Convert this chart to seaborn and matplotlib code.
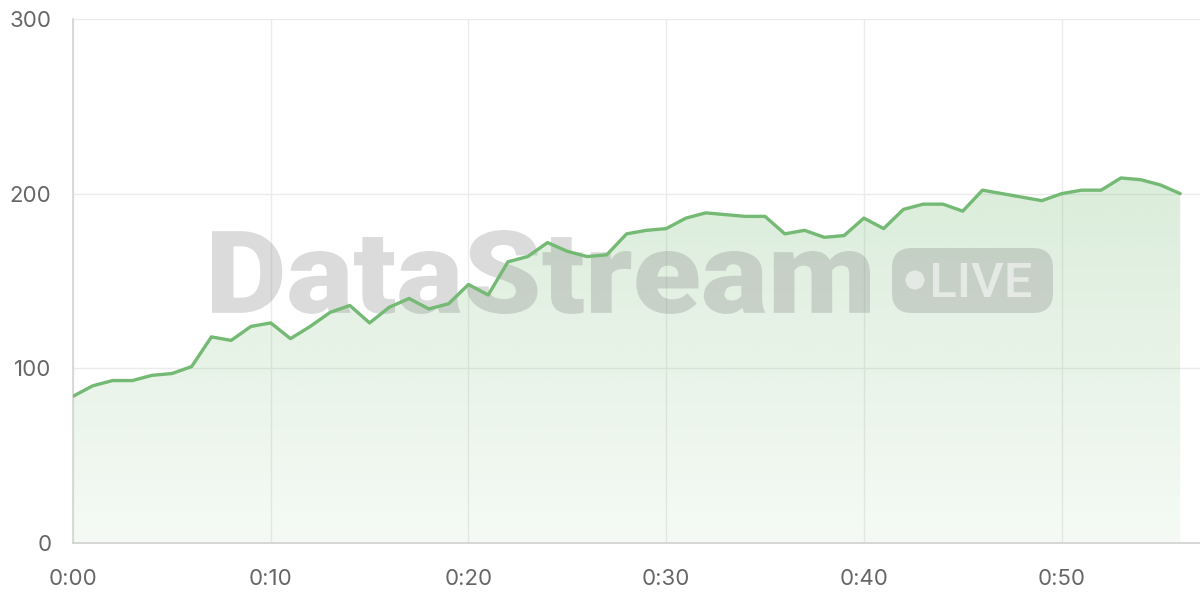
import numpy as np
import pandas as pd
import matplotlib
matplotlib.use("Agg")
import matplotlib.pyplot as plt
import seaborn as sns
from matplotlib.textpath import TextPath
from matplotlib.font_manager import FontProperties
from matplotlib.patches import PathPatch, Polygon, FancyBboxPatch, Circle
from matplotlib.transforms import Affine2D

# ---- data ----
minutes = list(range(57))
values = [84, 90, 93, 93, 96, 97, 101, 118, 116, 124,
          126, 117, 124, 132, 136, 126, 135, 140, 134, 137,
          148, 142, 161, 164, 172, 167, 164, 165, 177, 179,
          180, 186, 189, 188, 187, 187, 177, 179, 175, 176,
          186, 180, 191, 194, 194, 190, 202, 200, 198, 196,
          200, 202, 202, 209, 208, 205, 200]
x_ticks = [0, 10, 20, 30, 40, 50]
x_tick_labels = ["0:00", "0:10", "0:20", "0:30", "0:40", "0:50"]
y_ticks = [0, 100, 200, 300]
y_tick_labels = ["0", "100", "200", "300"]
watermark_text = "DataStream"
badge_text = "LIVE"

df = pd.DataFrame({"minute": minutes, "value": values})

sns.set_theme(style="white")
plt.rcParams["font.family"] = ["Inter", "DejaVu Sans"]

W, H = 1200, 600
fig = plt.figure(figsize=(12, 6), dpi=100)
ax = fig.add_axes([73 / W, (H - 543) / H, (W - 73) / W, (543 - 19) / H])
ax.set_xlim(0, 57.0)
ax.set_ylim(0, 300)

LINE = "#74b974"
GRID = "#ebebeb"

# gradient fill under line
grad_vals = np.linspace(0, 300, 256)
alpha = 0.07 + 0.0009 * grad_vals
rgba = np.zeros((256, 1, 4))
rgba[:, 0, 0] = 114 / 255
rgba[:, 0, 1] = 184 / 255
rgba[:, 0, 2] = 114 / 255
rgba[:, 0, 3] = alpha
im = ax.imshow(rgba, extent=[0, 57, 0, 300], origin="lower", aspect="auto",
               zorder=1, interpolation="bilinear")
verts = [(minutes[0], 0)] + list(zip(minutes, values)) + [(minutes[-1], 0)]
poly = Polygon(verts, closed=True, facecolor="none", edgecolor="none")
ax.add_patch(poly)
im.set_clip_path(poly)

# line
sns.lineplot(data=df, x="minute", y="value", ax=ax, color=LINE, linewidth=2.4,
             zorder=4, solid_joinstyle="round", solid_capstyle="round")

# grid / ticks
ax.set_xticks(x_ticks)
ax.set_xticklabels(x_tick_labels)
ax.set_yticks(y_ticks)
ax.set_yticklabels(y_tick_labels)
ax.grid(True, color=GRID, linewidth=1.0, zorder=0)
ax.set_axisbelow(True)
ax.tick_params(axis="both", which="major", length=10.5, width=1.0, color=GRID,
               labelsize=16, labelcolor="#666666", direction="out")
ax.tick_params(axis="y", pad=5)
ax.tick_params(axis="x", pad=8)
ax.set_xlabel("")
ax.set_ylabel("")
for s in ["top", "right"]:
    ax.spines[s].set_visible(False)
ax.spines["left"].set_color("#d4d4d4")
ax.spines["bottom"].set_color("#d0d0d0")
ax.spines["left"].set_linewidth(1.2)
ax.spines["bottom"].set_linewidth(1.2)

# ---- watermark (pixel coordinates, origin top-left) ----
pix = Affine2D().scale(1 / W, -1 / H).translate(0, 1) + fig.transFigure
WM = (0.5, 0.5, 0.5, 0.28)


def fitted_text(s, fp, x0, x1, ytop, ybase):
    tp = TextPath((0, 0), s, size=100, prop=fp)
    ext = tp.get_extents()
    sx = (x1 - x0) / ext.width
    sy = (ybase - ytop) / ext.height
    tr = Affine2D().translate(-ext.x0, -ext.y0).scale(sx, -sy).translate(x0, ybase)
    return tr.transform_path(tp)


fp_bold = FontProperties(family=["Roboto", "DejaVu Sans"], weight="black")
p = fitted_text(watermark_text, fp_bold, 212, 870, 230, 314)
ax.add_patch(PathPatch(p, transform=pix, facecolor=WM, edgecolor="none",
                       zorder=3, clip_on=False))

badge = FancyBboxPatch((892 + 20, 248 + 20), 161 - 40, 65 - 40,
                       boxstyle="round,pad=20", transform=pix,
                       facecolor=WM, edgecolor="none", zorder=3, clip_on=False)
ax.add_patch(badge)
ax.add_patch(Circle((915, 280), 9.5, transform=pix, facecolor=(1, 1, 1, 0.55),
                    edgecolor="none", zorder=3, clip_on=False))
fp_reg = FontProperties(family=["Roboto", "DejaVu Sans"], weight="medium")
p2 = fitted_text(badge_text, fp_reg, 933, 1031, 263, 297)
ax.add_patch(PathPatch(p2, transform=pix, facecolor=(1, 1, 1, 0.55),
                       edgecolor="none", zorder=3, clip_on=False))

fig.savefig("out.png", dpi=100)
